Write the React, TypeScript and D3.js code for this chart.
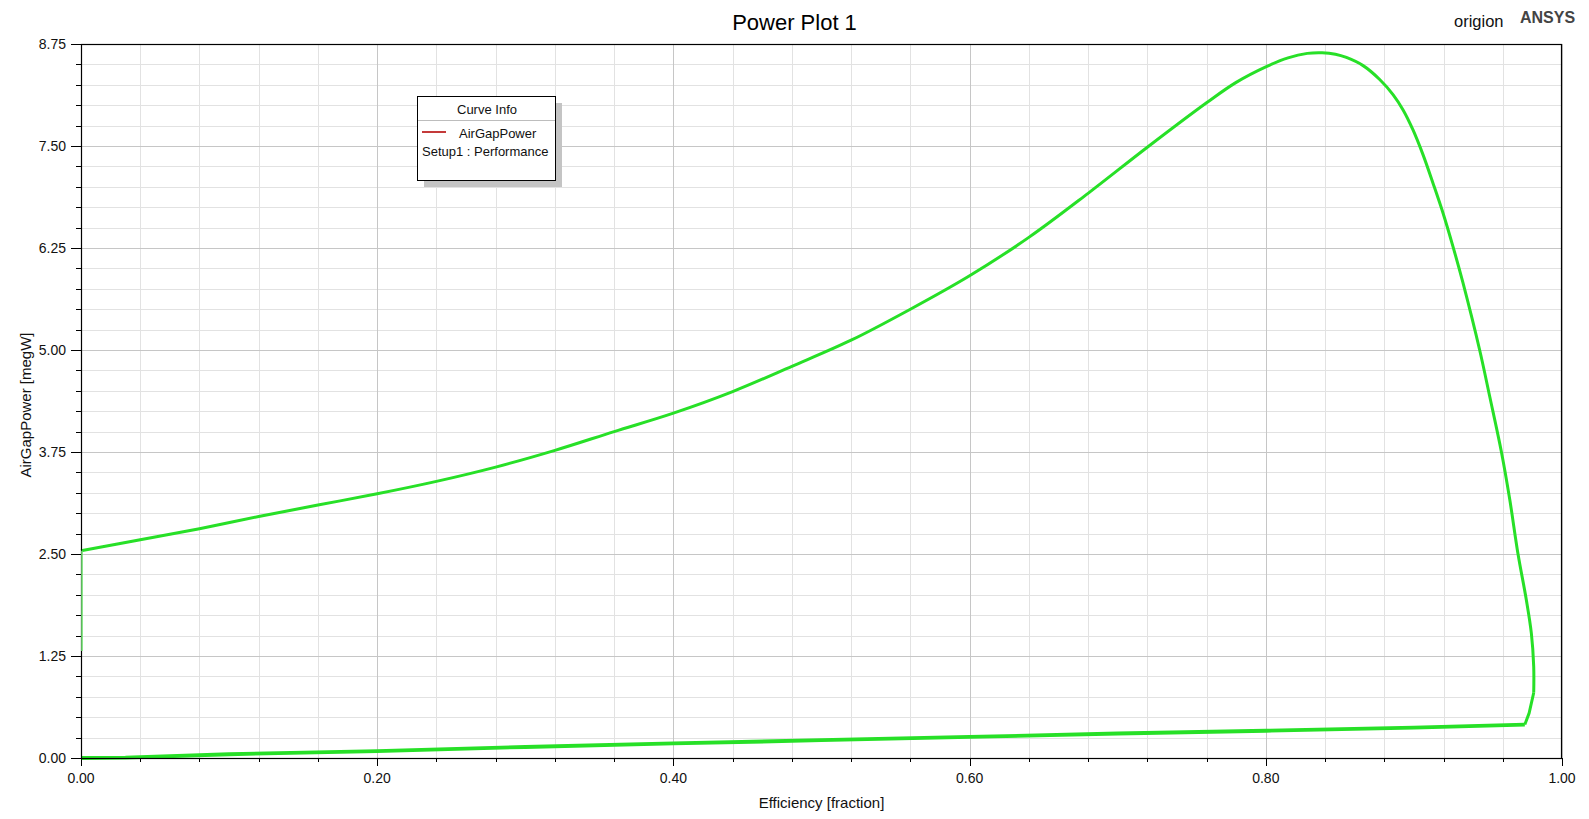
import React from "react";
import * as d3 from "d3";

// ---- data ----
const xMajorTicks = [0, 0.2, 0.4, 0.6, 0.8, 1.0];
const yMajorTicks = [0, 1.25, 2.5, 3.75, 5.0, 6.25, 7.5, 8.75];
const xMinorStep = 0.04;
const yMinorStep = 0.25;

// lower branch (efficiency, power)
const lowerEff = [0, 0.03, 0.1, 0.2, 0.3, 0.4, 0.5, 0.6, 0.7, 0.8, 0.9, 0.9749];
const lowerPow = [0, 0.005, 0.046, 0.085, 0.135, 0.178, 0.218, 0.258, 0.3, 0.334, 0.372, 0.41];

// turn at right
const turnEff = [0.9749, 0.9778, 0.9809];
const turnPow = [0.41, 0.55, 0.8];

// upper branch
const upperEff = [0.9809, 0.9809, 0.9793, 0.9759, 0.9703, 0.9647, 0.9591, 0.9512, 0.9444, 0.9332, 0.9264, 0.9197, 0.9129, 0.9062, 0.8994, 0.8927, 0.8859, 0.8769, 0.8657, 0.8544, 0.847, 0.838, 0.828, 0.815, 0.8, 0.78, 0.76, 0.72, 0.68, 0.64, 0.6, 0.56, 0.52, 0.48, 0.44, 0.4, 0.36, 0.32, 0.28, 0.24, 0.2, 0.16, 0.12, 0.08, 0.04, 0];
const upperPow = [0.8, 1.12, 1.53, 1.94, 2.5, 3.17, 3.75, 4.43, 5.0, 5.819, 6.267, 6.676, 7.044, 7.391, 7.697, 7.942, 8.13, 8.315, 8.485, 8.585, 8.625, 8.643, 8.635, 8.58, 8.47, 8.28, 8.03, 7.485, 6.92, 6.38, 5.91, 5.5, 5.12, 4.8, 4.49, 4.226, 4.0, 3.77, 3.565, 3.39, 3.238, 3.1, 2.96, 2.81, 2.674, 2.54];

// faint segment at efficiency 0
const faintEff = [0, 0];
const faintPow = [2.54, 1.31];

const W = 1589;
const H = 819;
const L = 81;
const R = 1562;
const T = 44;
const B = 758;
const FONT = "'Liberation Sans', Arial, Helvetica, sans-serif";
const GREEN = "#27e027";

export default function App() {
  const x = d3.scaleLinear().domain([0, 1]).range([L, R]);
  const y = d3.scaleLinear().domain([0, 8.75]).range([B, T]);

  const xMinor = d3.range(0, 1 + 1e-9, xMinorStep).filter((v) => !xMajorTicks.some((m) => Math.abs(m - v) < 1e-6));
  const yMinor = d3.range(0, 8.75 + 1e-9, yMinorStep).filter((v) => !yMajorTicks.some((m) => Math.abs(m - v) < 1e-6));

  const px = (v: number) => Math.round(x(v)) + 0.5;
  const py = (v: number) => Math.round(y(v)) + 0.5;

  const pts = (e: number[], p: number[]) => e.map((v, i) => [v, p[i]] as [number, number]);
  const lin = d3.line<[number, number]>().x((d) => x(d[0])).y((d) => y(d[1])).curve(d3.curveLinear);
  const smooth = d3.line<[number, number]>().x((d) => x(d[0])).y((d) => y(d[1])).curve(d3.curveCatmullRom.alpha(0.5));

  const legX = 417;
  const legY = 96;
  const legW = 138;
  const legH = 84;

  return (
    <svg width={W} height={H} style={{ position: "fixed", left: 0, top: 0, background: "#fff" }} fontFamily={FONT}>
      <rect x={0} y={0} width={W} height={H} fill="#fff" />
      {/* minor grid */}
      {xMinor.map((v, i) => (
        <line key={"xm" + i} x1={px(v)} x2={px(v)} y1={T} y2={B} stroke="#e2e2e2" strokeWidth={1} />
      ))}
      {yMinor.map((v, i) => (
        <line key={"ym" + i} x1={L} x2={R} y1={py(v)} y2={py(v)} stroke="#e2e2e2" strokeWidth={1} />
      ))}
      {/* major grid */}
      {xMajorTicks.map((v, i) => (
        <line key={"xM" + i} x1={px(v)} x2={px(v)} y1={T} y2={B} stroke="#c6c6c6" strokeWidth={1} />
      ))}
      {yMajorTicks.map((v, i) => (
        <line key={"yM" + i} x1={L} x2={R} y1={py(v)} y2={py(v)} stroke="#c6c6c6" strokeWidth={1} />
      ))}

      {/* curves */}
      <path d={lin(pts(lowerEff, lowerPow)) || ""} fill="none" stroke={GREEN} strokeWidth={3.8} strokeLinejoin="round" />
      <path d={lin(pts(turnEff, turnPow)) || ""} fill="none" stroke={GREEN} strokeWidth={3} strokeLinejoin="round" />
      <path d={smooth(pts(upperEff, upperPow)) || ""} fill="none" stroke={GREEN} strokeWidth={3} strokeLinejoin="round" />

      {/* frame */}
      <rect x={L + 0.5} y={T + 0.5} width={R - L - 1} height={B - T} fill="none" stroke="#000" strokeWidth={1.2} />

      {/* faint segment over the axis */}
      <path d={lin(pts(faintEff, faintPow)) || ""} fill="none" stroke="#74e474" strokeWidth={1.6} transform="translate(1,0)" />

      {/* y ticks */}
      {yMajorTicks.map((v, i) => (
        <g key={"yt" + i}>
          <line x1={L - 10} x2={L} y1={py(v)} y2={py(v)} stroke="#000" />
          <text x={66} y={y(v)} dy="0.36em" textAnchor="end" fontSize={14} fill="#111">
            {v.toFixed(2)}
          </text>
        </g>
      ))}
      {yMinor.map((v, i) => (
        <line key={"ymt" + i} x1={L - 5} x2={L} y1={py(v)} y2={py(v)} stroke="#000" />
      ))}
      {/* x ticks */}
      {xMajorTicks.map((v, i) => (
        <g key={"xt" + i}>
          <line x1={px(v)} x2={px(v)} y1={B} y2={B + 8} stroke="#000" />
          <text x={x(v)} y={783} textAnchor="middle" fontSize={14} fill="#111">
            {v.toFixed(2)}
          </text>
        </g>
      ))}
      {xMinor.map((v, i) => (
        <line key={"xmt" + i} x1={px(v)} x2={px(v)} y1={B} y2={B + 4} stroke="#000" />
      ))}

      {/* axis titles */}
      <text x={(L + R) / 2} y={808} textAnchor="middle" fontSize={15} fill="#111">
        Efficiency [fraction]
      </text>
      <text transform={`translate(31,${(T + B) / 2 + 4}) rotate(-90)`} textAnchor="middle" fontSize={15} fill="#111">
        AirGapPower [megW]
      </text>

      {/* title & labels */}
      <text x={W / 2} y={30} textAnchor="middle" fontSize={22} fill="#000">
        Power Plot 1
      </text>
      <text x={1454} y={27} fontSize={16.5} fill="#111">
        origion
      </text>
      <text x={1520} y={23} fontSize={16} fontWeight="bold" fill="#444">
        ANSYS
      </text>

      {/* legend */}
      <rect x={legX + 7} y={legY + 7} width={legW} height={legH} fill="#c4c4c4" />
      <rect x={legX + 0.5} y={legY + 0.5} width={legW} height={legH} fill="#fff" stroke="#000" strokeWidth={1} />
      <text x={legX + legW / 2 + 1} y={legY + 18} textAnchor="middle" fontSize={13} fill="#111">
        Curve Info
      </text>
      <line x1={legX + 1} x2={legX + legW} y1={legY + 24.5} y2={legY + 24.5} stroke="#bdbdbd" />
      <line x1={legX + 5} x2={legX + 29} y1={legY + 36} y2={legY + 36} stroke="#c43a3a" strokeWidth={2} />
      <text x={legX + 42} y={legY + 42} fontSize={13} fill="#111">
        AirGapPower
      </text>
      <text x={legX + 5} y={legY + 60} fontSize={13} fill="#111">
        Setup1 : Performance
      </text>
    </svg>
  );
}
